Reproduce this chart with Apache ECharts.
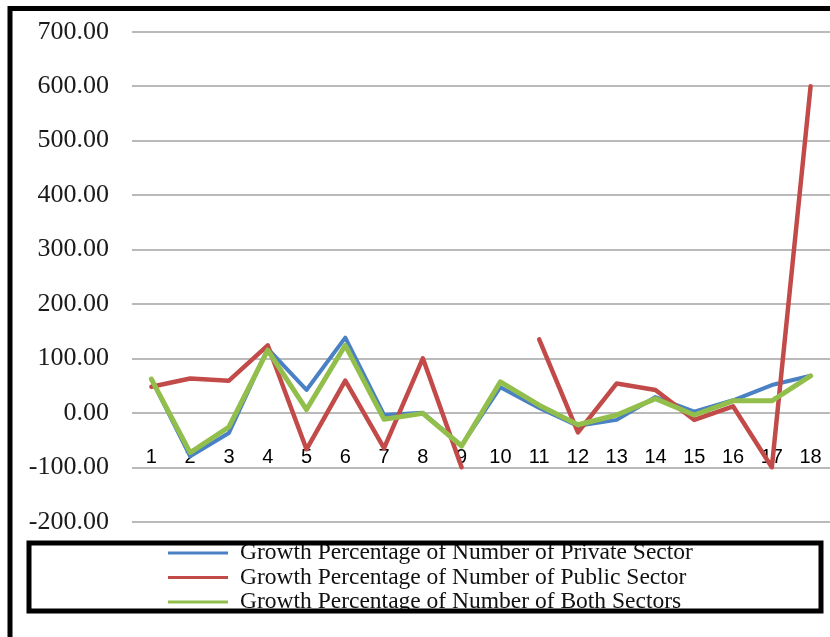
<!DOCTYPE html>
<html>
<head>
<meta charset="utf-8">
<script src="https://cdn.jsdelivr.net/npm/echarts@6/dist/echarts.min.js"></script>
<style>
  html, body { margin: 0; padding: 0; background: #ffffff; }
  #chart { width: 830px; height: 637px; }
</style>
</head>
<body>
<div id="chart"></div>
<script>
// Periods along the horizontal axis
const categories = ['1', '2', '3', '4', '5', '6', '7', '8', '9', '10', '11', '12', '13', '14', '15', '16', '17', '18'];

// Growth percentages per period (null = no value for that period)
const privateGrowth = [62, -80, -37, 118, 42, 138, -4, 0, -60, 47, 9, -24, -13, 29, 2, 23, 51, 68];
const publicGrowth  = [48, 63, 59, 124, -67, 59, -65, 100, -100, null, 135, -36, 54, 42, -13, 12, -100, 600];
const bothGrowth    = [62, -73, -26, 115, 6, 124, -12, -1, -61, 57, 14, -22, -4, 26, -4, 22, 22, 68];

// Series names shown in the legend
const seriesNames = [
  'Growth Percentage of Number of Private Sector',
  'Growth Percentage of Number of Public Sector',
  'Growth Percentage of Number of Both Sectors'
];

// Value axis range and step
const yMin = -200;
const yMax = 700;
const yStep = 100;

const colors = ['#4a80c4', '#c24b4a', '#92bf4c'];

const chart = echarts.init(document.getElementById('chart'), null, { renderer: 'canvas' });

function lineSeries(name, data, color, width) {
  return {
    name: name,
    type: 'line',
    data: data,
    symbol: 'none',
    connectNulls: false,
    lineStyle: { color: color, width: width, cap: 'round', join: 'round' },
    itemStyle: { color: color },
    emphasis: { disabled: true },
    animation: false
  };
}

chart.setOption({
  backgroundColor: '#ffffff',
  animation: false,
  grid: {
    left: 132,
    top: 31.7,
    width: 707.5,
    height: 490,
    containLabel: false
  },
  xAxis: {
    type: 'category',
    data: categories,
    boundaryGap: true,
    position: 'bottom',
    axisLine: { show: false, onZero: false },
    axisTick: { show: false },
    splitLine: { show: false },
    axisLabel: {
      interval: 0,
      // category labels sit just above the -100 line, inside the plot
      margin: -74,
      fontFamily: '"Liberation Sans", Arial, sans-serif',
      fontSize: 20,
      lineHeight: 20,
      color: '#000000'
    }
  },
  yAxis: {
    type: 'value',
    min: yMin,
    max: yMax,
    interval: yStep,
    axisLine: { show: false },
    axisTick: { show: false },
    splitLine: { show: true, lineStyle: { color: '#a3a3a3', width: 1.6 } },
    axisLabel: {
      margin: 23,
      formatter: function (v) { return v.toFixed(2); },
      fontFamily: '"Liberation Serif", "Times New Roman", serif',
      fontSize: 26,
      color: '#1a1a1a'
    }
  },
  legend: {
    orient: 'vertical',
    left: 168,
    top: 541,
    padding: 0,
    itemGap: 0.5,
    itemWidth: 60,
    itemHeight: 3,
    icon: 'rect',
    selectedMode: false,
    data: seriesNames,
    textStyle: {
      fontFamily: '"Liberation Serif", "Times New Roman", serif',
      fontSize: 23.5,
      lineHeight: 24,
      padding: [0, 0, 0, 7],
      color: '#111111'
    }
  },
  graphic: [
    {
      type: 'rect',
      silent: true,
      z: 100,
      shape: { x: 10, y: 8.5, width: 900, height: 700 },
      style: { fill: null, stroke: '#000000', lineWidth: 5 }
    },
    {
      type: 'rect',
      silent: true,
      z: 100,
      shape: { x: 29, y: 543, width: 792, height: 68 },
      style: { fill: null, stroke: '#000000', lineWidth: 5 }
    }
  ],
  series: [
    lineSeries(seriesNames[0], privateGrowth, colors[0], 4),
    lineSeries(seriesNames[1], publicGrowth, colors[1], 4.5),
    lineSeries(seriesNames[2], bothGrowth, colors[2], 5)
  ]
});
</script>
</body>
</html>
